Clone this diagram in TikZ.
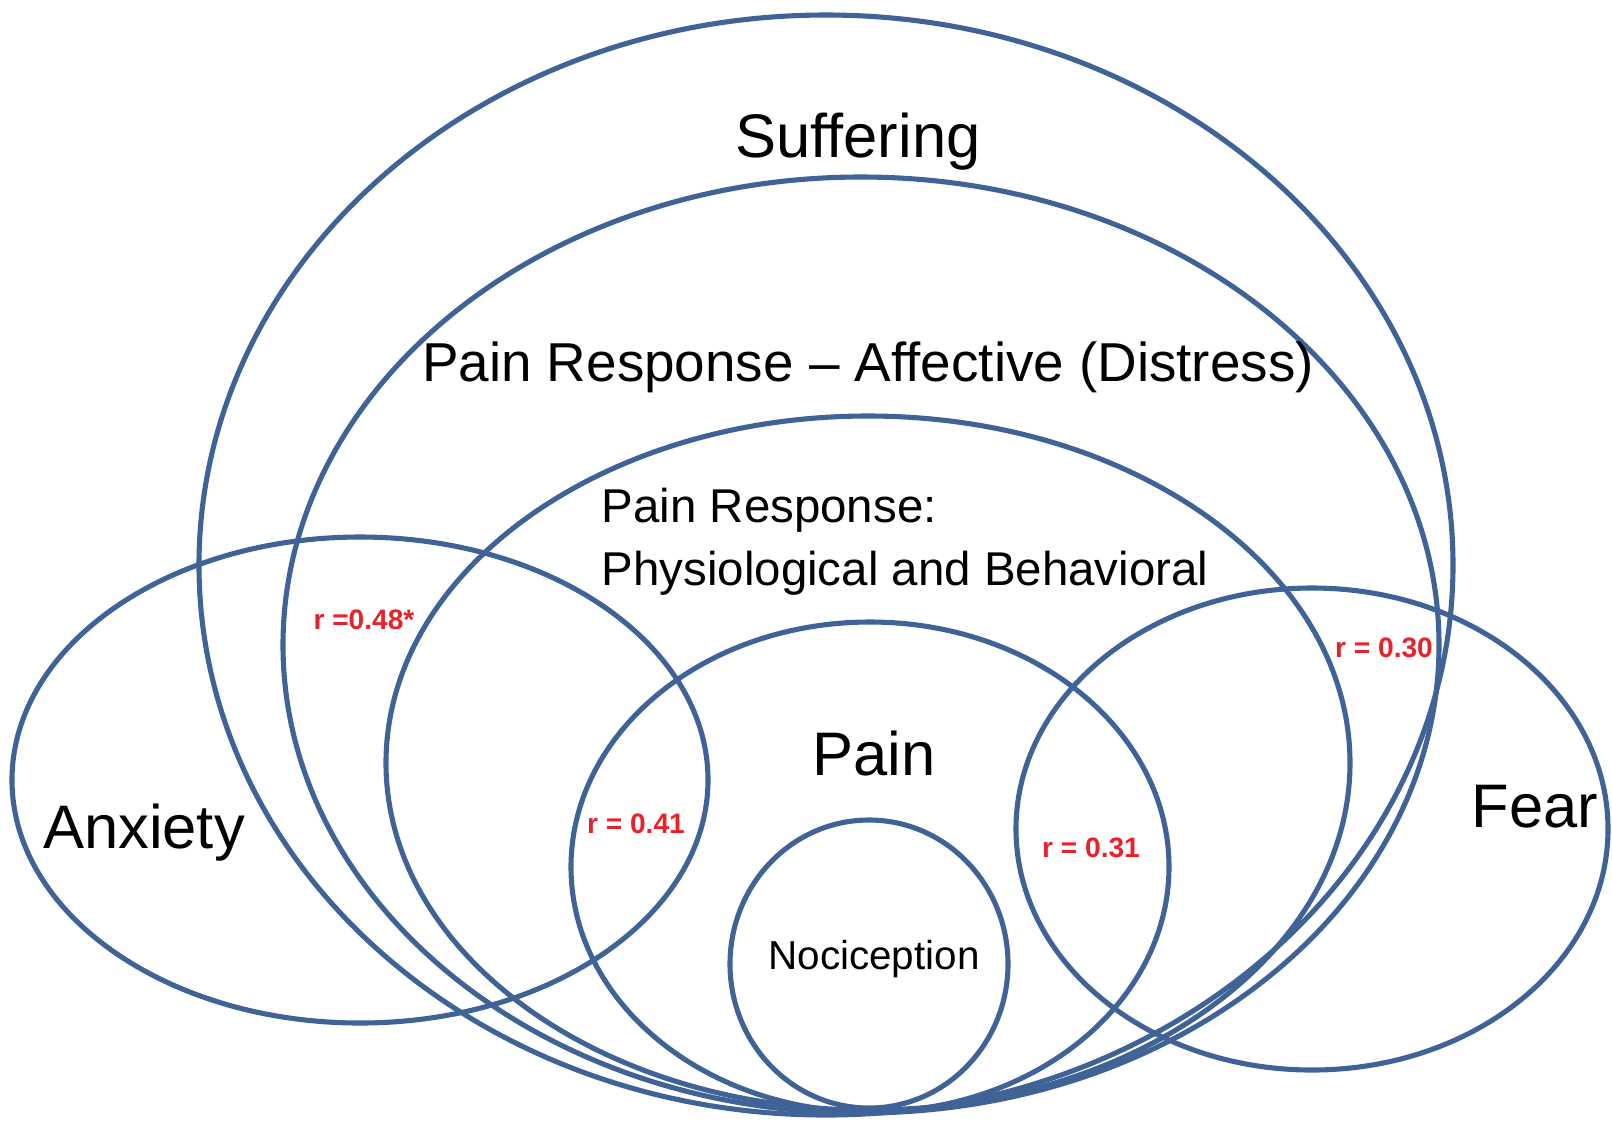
\documentclass[tikz,border=0pt]{standalone}
\usepackage{fontspec}
\setmainfont{Liberation Sans}
\definecolor{ringblue}{HTML}{3F6396}
\definecolor{corrred}{HTML}{E8212B}

\begin{document}
\begin{tikzpicture}[x=0.1mm, y=-0.1mm,
      ring/.style  = {draw=ringblue, line width=1.45pt},
      big/.style   = {font=\fontsize{17.5}{21}\selectfont, inner sep=0pt},
      mid/.style   = {font=\fontsize{15.6}{18}\selectfont, inner sep=0pt},
      small/.style = {font=\fontsize{13.5}{18}\selectfont, inner sep=0pt},
      tiny/.style  = {font=\fontsize{11.5}{14}\selectfont, inner sep=0pt},
      corr/.style  = {font=\fontsize{8}{10}\selectfont\bfseries, text=corrred, inner sep=0pt},
    ]
    \useasboundingbox (0,0) rectangle (1612,1121);

    % nested sets, outermost first
    \draw[ring] (826,565) ellipse [x radius=627, y radius=550];
    \draw[ring] (861,645) ellipse [x radius=578, y radius=468];
    \draw[ring] (868,763) ellipse [x radius=482, y radius=347];
    \draw[ring] (870,867) ellipse [x radius=299, y radius=245];
    \draw[ring] (869,964) ellipse [x radius=139, y radius=144];
    % side sets
    \draw[ring] (360,780) ellipse [x radius=348, y radius=243];
    \draw[ring] (1312,829) ellipse [x radius=296, y radius=241];

    \node[big] (suffering) at (858,142) {Suffering};
    \node[mid] (affective) at (868,367) {Pain Response -- Affective (Distress)};
    \node[small, anchor=west, align=left] (physio) at (601,542)
      {Pain Response:\\Physiological and Behavioral};
    \node[big] (pain) at (874,753) {Pain};
    \node[tiny] (noci) at (874,959) {Nociception};
    \node[big] (anxiety) at (144,833) {Anxiety};
    \node[big] (fear) at (1535,807) {Fear};

    \node[corr] (ranx) at (364,620) {r =0.48*};
    \node[corr] (rpain) at (636,824) {r = 0.41};
    \node[corr] (rfpain) at (1091,848) {r = 0.31};
    \node[corr] (rfear) at (1384,648) {r = 0.30};
  \end{tikzpicture}
\end{document}
